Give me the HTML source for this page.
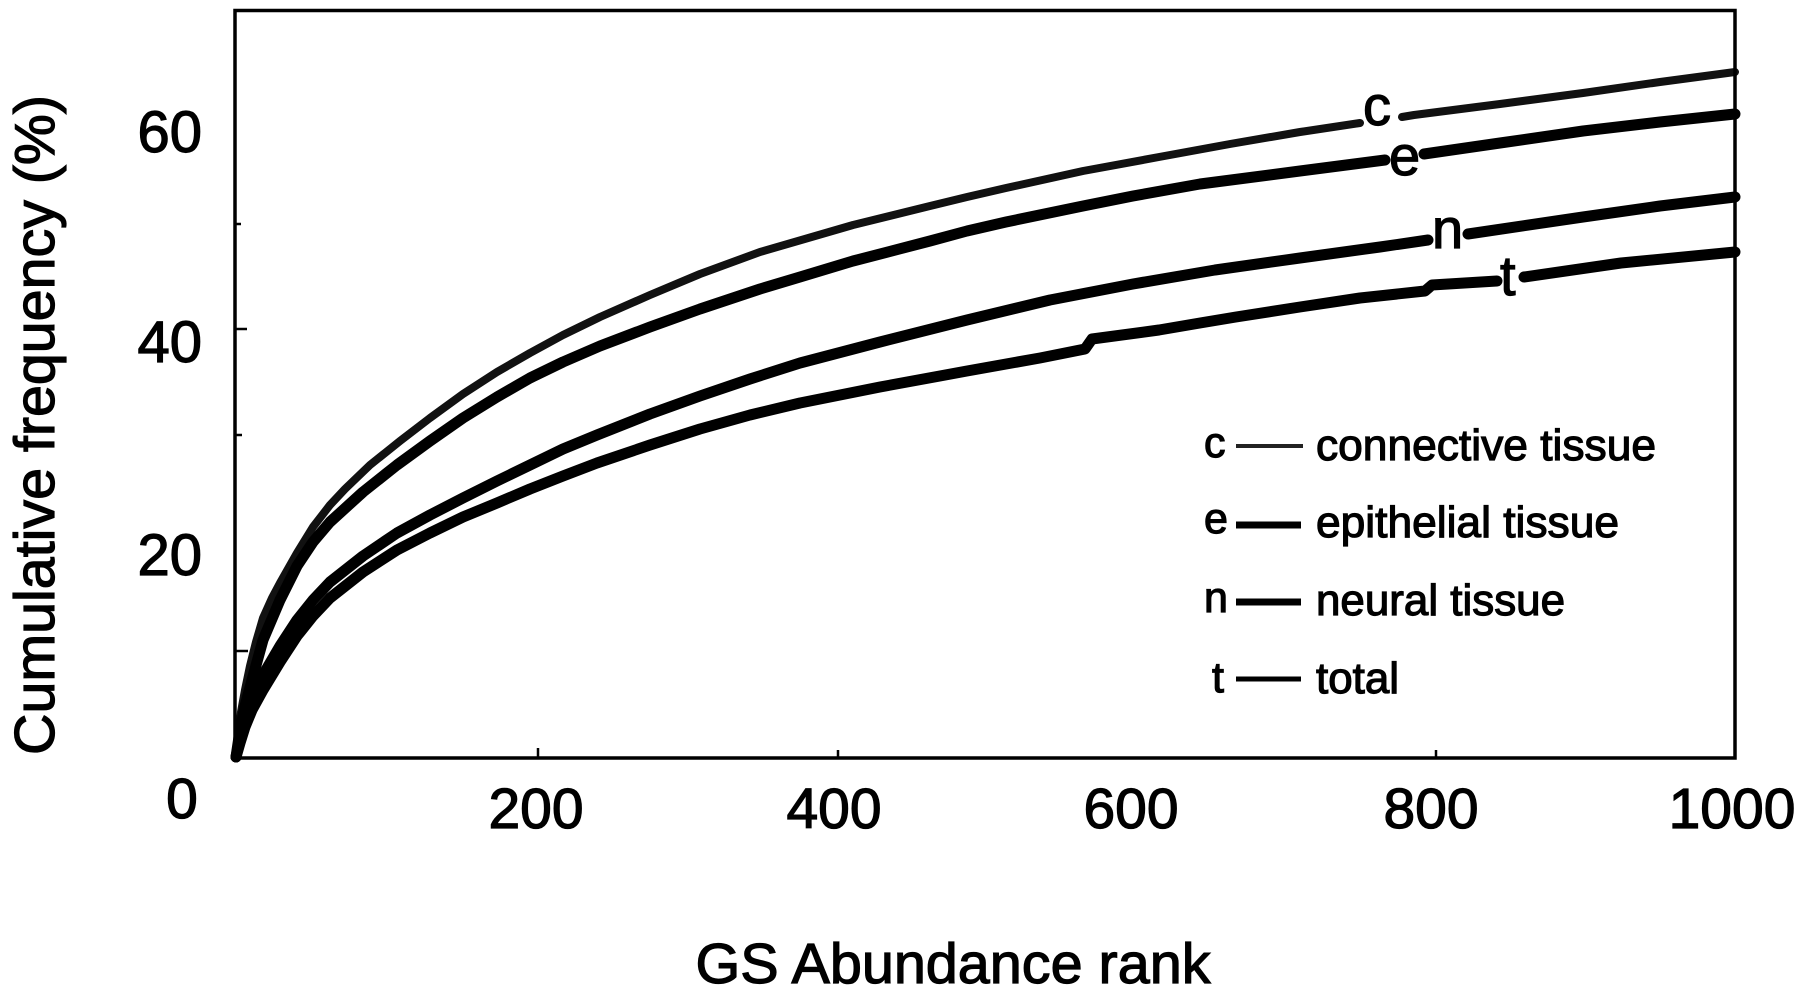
<!DOCTYPE html>
<html>
<head>
<meta charset="utf-8">
<style>
html,body{margin:0;padding:0;background:#fff;}
svg{display:block;}
text{font-family:"Liberation Sans",Arial,sans-serif;fill:#000;stroke:#000;stroke-width:1.2px;}
</style>
</head>
<body>
<svg width="1800" height="990" viewBox="0 0 1800 990" xmlns="http://www.w3.org/2000/svg">
<rect x="0" y="0" width="1800" height="990" fill="#fff"/>

<!-- curves -->
<g fill="none" stroke="#000" stroke-linejoin="round" stroke-linecap="round">
  <!-- c : connective tissue -->
  <g stroke-width="8" stroke="#111">
    <polyline points="236,757 238,735 241,712 245,690 250,666 256,642 263,618 272,598 280,583 297,553 313,527 330,505 345,489 370,465 400,441 430,418 463,394 497,372 530,353 563,335 600,317 650,295 700,274 760,252 853,225 930,206 967,197 1006,188 1083,171 1159,157 1230,144 1300,132 1360,123"/>
    <polyline points="1402,117 1414,115 1500,104 1583,93 1660,82 1735,72"/>
  </g>
  <!-- e : epithelial tissue -->
  <g stroke-width="11">
    <polyline points="236,757 240,730 245,706 252,680 263,640 280,600 297,566 313,542 330,522 363,492 397,465 430,441 463,418 497,397 530,378 563,362 600,346 650,327 700,309 760,289 800,277 853,261 930,241 967,231 1006,222 1083,206 1133,196 1200,184 1300,171 1385,160"/>
    <polyline points="1424,154 1500,143 1583,131 1660,122 1735,114"/>
  </g>
  <!-- n : neural tissue -->
  <g stroke-width="11">
    <polyline points="236,757 240,737 245,719 252,700 263,675 280,646 297,620 313,600 330,582 363,556 397,533 430,515 463,498 497,481 530,465 563,449 597,435 650,414 700,396 750,379 800,363 880,342 967,320 1050,300 1133,284 1215,270 1300,258 1380,247 1428,240"/>
    <polyline points="1468,234 1583,217 1660,206 1735,197"/>
  </g>
  <!-- t : total -->
  <g stroke-width="11">
    <polyline points="236,757 240,743 245,727 252,710 263,690 280,662 297,636 313,616 330,598 363,572 397,550 430,533 463,517 497,503 530,489 563,476 597,463 650,445 700,429 750,415 800,403 880,387 967,371 1040,358 1085,349 1092,339 1159,330 1200,323 1236,317 1300,307 1360,298 1425,291 1432,285 1497,281"/>
    <polyline points="1524,277 1621,263 1735,252"/>
  </g>
</g>

<!-- in-plot curve labels -->
<text x="1363" y="125" font-size="56">c</text>
<text x="1389" y="175" font-size="56">e</text>
<text x="1432" y="248" font-size="56">n</text>
<text x="1500" y="295" font-size="56">t</text>

<!-- frame -->
<rect x="235" y="10.5" width="1500" height="747.5" fill="none" stroke="#000" stroke-width="3.5"/>

<!-- y ticks -->
<g stroke="#000" stroke-width="2.5">
  <line x1="235" y1="651" x2="248" y2="651"/>
  <line x1="235" y1="435" x2="242" y2="435"/>
  <line x1="235" y1="329" x2="247" y2="329"/>
  <line x1="235" y1="224" x2="241" y2="224"/>
</g>
<!-- x ticks -->
<g stroke="#000" stroke-width="2.5">
  <line x1="538" y1="758" x2="538" y2="748"/>
  <line x1="838" y1="758" x2="838" y2="750"/>
  <line x1="1436" y1="758" x2="1436" y2="750"/>
</g>

<!-- y tick labels -->
<g font-size="58" text-anchor="end">
  <text x="202" y="152">60</text>
  <text x="202" y="362">40</text>
  <text x="202" y="575">20</text>
</g>

<!-- x tick labels -->
<g font-size="57" text-anchor="middle">
  <text x="182" y="818">0</text>
  <text x="536" y="828">200</text>
  <text x="834" y="828">400</text>
  <text x="1131" y="828">600</text>
  <text x="1431" y="828">800</text>
  <text x="1732" y="828">1000</text>
</g>

<!-- axis titles -->
<text x="953" y="983" font-size="57" text-anchor="middle" textLength="515" lengthAdjust="spacingAndGlyphs">GS Abundance rank</text>
<text transform="translate(54,425) rotate(-90)" x="0" y="0" font-size="57" text-anchor="middle" textLength="660" lengthAdjust="spacingAndGlyphs">Cumulative frequency (%)</text>

<!-- legend -->
<g font-size="43">
  <text x="1204" y="457">c</text>
  <text x="1204" y="533">e</text>
  <text x="1204" y="612">n</text>
  <text x="1212" y="692">t</text>
</g>
<g stroke="#000">
  <line x1="1236" y1="446" x2="1303" y2="446" stroke-width="4" stroke="#222"/>
  <line x1="1236" y1="525" x2="1301" y2="525" stroke-width="7"/>
  <line x1="1236" y1="602" x2="1301" y2="602" stroke-width="7"/>
  <line x1="1236" y1="679" x2="1301" y2="679" stroke-width="5"/>
</g>
<g font-size="44">
  <text x="1316" y="460" textLength="340" lengthAdjust="spacingAndGlyphs">connective tissue</text>
  <text x="1316" y="537" textLength="303" lengthAdjust="spacingAndGlyphs">epithelial tissue</text>
  <text x="1316" y="615" textLength="249" lengthAdjust="spacingAndGlyphs">neural tissue</text>
  <text x="1316" y="693" textLength="83" lengthAdjust="spacingAndGlyphs">total</text>
</g>
</svg>
</body>
</html>
